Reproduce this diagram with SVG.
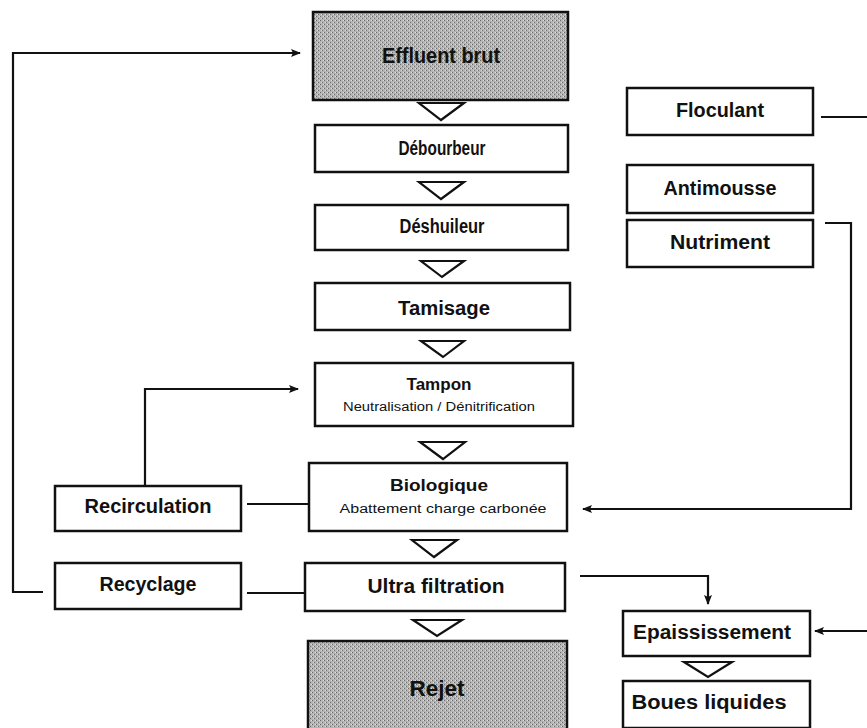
<svg xmlns="http://www.w3.org/2000/svg" width="867" height="728" viewBox="0 0 867 728">
<style>
.box{fill:#fff;stroke:#111;stroke-width:2.5}
.gray{fill:#ababab;stroke:#111;stroke-width:2.5}
.tri{fill:#fff;stroke:#111;stroke-width:2.2;stroke-linejoin:miter}
.lbl{font-family:"Liberation Sans",Arial,sans-serif;font-weight:bold;font-size:20px;fill:#111;text-anchor:middle}
.big{font-size:22px}
.mid{font-size:17px}
.sub{font-family:"Liberation Sans",Arial,sans-serif;font-size:12px;fill:#111;text-anchor:middle}
.con{fill:none;stroke:#111;stroke-width:2.2}
</style>
<defs>
<pattern id="dither" width="4" height="4" patternUnits="userSpaceOnUse">
<rect width="4" height="4" fill="#b4b4b4"/>
<rect x="0" y="0" width="1" height="1" fill="#6a6a6a"/>
<rect x="2" y="2" width="1" height="1" fill="#6a6a6a"/>
<rect x="3" y="0" width="1" height="1" fill="#e0e0e0"/>
<rect x="1" y="2" width="1" height="1" fill="#e0e0e0"/>
</pattern>
<marker id="arr" markerWidth="10" markerHeight="8" refX="9" refY="4" orient="auto" markerUnits="userSpaceOnUse">
<path d="M0,0 L10,4 L0,8 L2,4 Z" fill="#111"/>
</marker>
</defs>

<g id="connectors">
<polyline class="con" points="43,592 13,592 13,53 300,53" marker-end="url(#arr)"/>
<line class="con" x1="247" y1="593" x2="305" y2="593"/>
<line class="con" x1="247" y1="504" x2="309" y2="504"/>
<polyline class="con" points="145,486 145,389 298,389" marker-end="url(#arr)"/>
<line class="con" x1="821" y1="117" x2="867" y2="117"/>
<polyline class="con" points="825,223 851,223 851,509 583,509" marker-end="url(#arr)"/>
<polyline class="con" points="580,576 708,576 708,604" marker-end="url(#arr)"/>
<line class="con" x1="867" y1="631" x2="815" y2="631" marker-end="url(#arr)"/>
<polygon class="tri" points="419,103 464,103 441,120"/>
<polygon class="tri" points="419,182 464,182 441,199"/>
<polygon class="tri" points="421,261 464,261 442,277"/>
<polygon class="tri" points="421,341 464,341 443,357"/>
<polygon class="tri" points="420,442 465,442 443,459"/>
<polygon class="tri" points="412,540 457,540 434,557"/>
<polygon class="tri" points="413,620 462,620 437,636"/>
<polygon class="tri" points="684,662 732,662 708,677"/>
</g>

<g id="effluent">
<rect class="gray" x="313" y="12" width="255" height="88" fill="url(#dither)" style="fill:url(#dither)"/>
<text class="lbl big" x="441" y="63" textLength="118" lengthAdjust="spacingAndGlyphs">Effluent brut</text>
</g>
<g id="debourbeur">
<rect class="box" x="315" y="125" width="253" height="47"/>
<text class="lbl" x="442" y="155" textLength="87" lengthAdjust="spacingAndGlyphs">Débourbeur</text>
</g>
<g id="deshuileur">
<rect class="box" x="315" y="205" width="253" height="45"/>
<text class="lbl" x="442" y="233" textLength="85" lengthAdjust="spacingAndGlyphs">Déshuileur</text>
</g>
<g id="tamisage">
<rect class="box" x="315" y="283" width="255" height="47"/>
<text class="lbl" x="444" y="315" textLength="92" lengthAdjust="spacingAndGlyphs">Tamisage</text>
</g>
<g id="tampon">
<rect class="box" x="315" y="363" width="258" height="63"/>
<text class="lbl mid" x="439" y="390" textLength="65" lengthAdjust="spacingAndGlyphs">Tampon</text>
<text class="sub" x="439" y="411" textLength="192" lengthAdjust="spacingAndGlyphs">Neutralisation / Dénitrification</text>
</g>
<g id="biologique">
<rect class="box" x="309" y="463" width="258" height="68"/>
<text class="lbl mid" x="439" y="491" textLength="98" lengthAdjust="spacingAndGlyphs">Biologique</text>
<text class="sub" x="443" y="513" textLength="207" lengthAdjust="spacingAndGlyphs">Abattement charge carbonée</text>
</g>
<g id="ultrafiltration">
<rect class="box" x="305" y="563" width="260" height="48"/>
<text class="lbl" x="436" y="593" textLength="137" lengthAdjust="spacingAndGlyphs">Ultra filtration</text>
</g>
<g id="rejet">
<rect class="gray" x="308" y="641" width="259" height="95" style="fill:url(#dither)"/>
<text class="lbl big" x="437" y="696" textLength="55" lengthAdjust="spacingAndGlyphs">Rejet</text>
</g>
<g id="floculant">
<rect class="box" x="627" y="88" width="186" height="47"/>
<text class="lbl" x="720" y="117" textLength="88" lengthAdjust="spacingAndGlyphs">Floculant</text>
</g>
<g id="antimousse">
<rect class="box" x="627" y="165" width="186" height="48"/>
<text class="lbl" x="720" y="195" textLength="113" lengthAdjust="spacingAndGlyphs">Antimousse</text>
</g>
<g id="nutriment">
<rect class="box" x="627" y="220" width="186" height="47"/>
<text class="lbl" x="720" y="249" textLength="100" lengthAdjust="spacingAndGlyphs">Nutriment</text>
</g>
<g id="recirculation">
<rect class="box" x="55" y="486" width="186" height="45"/>
<text class="lbl" x="148" y="513" textLength="127" lengthAdjust="spacingAndGlyphs">Recirculation</text>
</g>
<g id="recyclage">
<rect class="box" x="55" y="563" width="186" height="46"/>
<text class="lbl" x="148" y="591" textLength="97" lengthAdjust="spacingAndGlyphs">Recyclage</text>
</g>
<g id="epaississement">
<rect class="box" x="623" y="611" width="187" height="45"/>
<text class="lbl" x="712" y="639" textLength="158" lengthAdjust="spacingAndGlyphs">Epaississement</text>
</g>
<g id="boues">
<rect class="box" x="623" y="681" width="187" height="47"/>
<text class="lbl" x="709" y="709" textLength="155" lengthAdjust="spacingAndGlyphs">Boues liquides</text>
</g>
</svg>
